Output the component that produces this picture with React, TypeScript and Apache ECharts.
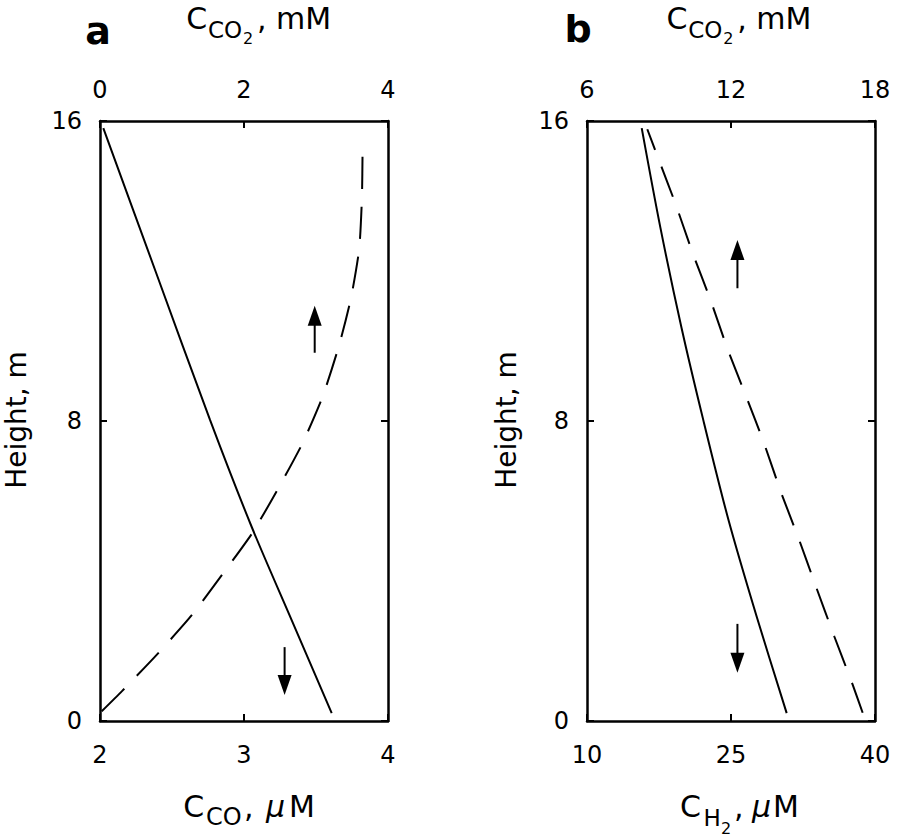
import React, { useEffect, useRef } from 'react';
import * as echarts from 'echarts';

const FONT = '"DejaVu Sans", sans-serif';

// Panel a: solid = C_CO (bottom axis, µM), dashed = C_CO2 (top axis, mM)
const heightA_solid = [0.21, 2.69, 5.18, 8.03, 11.98, 15.81];
const coA = [3.609, 3.331, 3.053, 2.764, 2.387, 2.023];
const heightA_dashed = [0.26, 0.79, 1.77, 2.83, 3.90, 5.01, 6.16, 7.40, 8.64, 10.02, 11.26, 12.59, 13.96, 15.29];
const co2A = [0.024, 0.302, 0.790, 1.278, 1.696, 2.114, 2.463, 2.811, 3.090, 3.321, 3.484, 3.600, 3.638, 3.647];

// Panel b: solid = C_H2 (bottom axis, µM), dashed = C_CO2 (top axis, mM)
const heightB_solid = [0.21, 2.78, 5.36, 8.03, 10.48, 13.15, 15.81];
const h2B = [30.80, 27.68, 24.74, 22.11, 19.85, 17.65, 15.70];
const heightB_dashed = [0.22, 0.97, 2.26, 3.59, 4.83, 6.11, 7.40, 8.68, 9.93, 11.21, 12.50, 13.78, 15.07, 15.78];
const co2B = [17.486, 17.069, 16.301, 15.537, 14.840, 14.077, 13.380, 12.616, 11.852, 11.155, 10.391, 9.694, 8.930, 8.513];

// Arrows (bottom-axis units / height units)
const arrowXA = [3.491, 3.282];
const arrowTailA = [9.82, 1.97];
const arrowHeadA = [10.81, 0.96];
const arrowXB = [25.67, 25.67];
const arrowTailB = [11.54, 2.59];
const arrowHeadB = [12.56, 1.555];

// Axis ticks
const coTicks = { min: 2, max: 4, interval: 1 };
const co2TicksA = { min: 0, max: 4, interval: 2 };
const h2TickValues = [10, 25, 40];
const co2TicksB = { min: 6, max: 18, interval: 6 };
const heightTicks = { min: 0, max: 16, interval: 8 };

const BLACK = '#000';

function axisCommon(showLabel: boolean, margin: number) {
  return {
    type: 'value',
    axisLine: { show: true, onZero: false, lineStyle: { color: BLACK, width: 2.5 } },
    axisTick: { show: true, inside: true, length: 7, lineStyle: { color: BLACK, width: 2 } },
    axisLabel: { show: showLabel, margin, fontFamily: FONT, fontSize: 24, color: BLACK },
    splitLine: { show: false },
  };
}

const pairs = (xs: number[], ys: number[]) => xs.map((x, i) => [x, ys[i]]);

function piece(text: string, x: number, y: number, size: number, opts: { bold?: boolean; italic?: boolean; rotation?: number; align?: string } = {}) {
  const align = opts.align || 'left';
  return {
    type: 'text',
    x,
    y,
    rotation: opts.rotation || 0,
    silent: true,
    style: {
      text,
      font: `${opts.italic ? 'italic ' : ''}${opts.bold ? 'bold ' : ''}${size}px ${FONT}`,
      align,
      textAlign: align,
      verticalAlign: 'middle',
      textVerticalAlign: 'middle',
      fill: BLACK,
    },
  };
}

// "C_CO2, mM" top title, dx = left offset
function topTitle(dx: number) {
  return [
    piece('C', dx + 186.3, 18.3, 30),
    piece('CO', dx + 208, 30, 23),
    piece('2', dx + 243, 38, 16),
    piece(', mM', dx + 257, 18.3, 30),
  ];
}

function arrowSeries(xs: number[], tails: number[], heads: number[], xAxisIndex: number, yAxisIndex: number) {
  const shafts = xs.map((x, i) => ({
    type: 'line',
    xAxisIndex,
    yAxisIndex,
    data: [[x, tails[i]], [x, heads[i]]],
    showSymbol: false,
    symbol: 'none',
    silent: true,
    lineStyle: { color: BLACK, width: 2 },
  }));
  const headsSeries = {
    type: 'scatter',
    xAxisIndex,
    yAxisIndex,
    silent: true,
    data: xs.map((x, i) => ({
      value: [x, heads[i]],
      symbolRotate: heads[i] > tails[i] ? 0 : 180,
    })),
    symbol: 'triangle',
    symbolSize: [14, 20],
    itemStyle: { color: BLACK, opacity: 1 },
  };
  return [...shafts, headsSeries];
}

const option = {
  animation: false,
  backgroundColor: '#fff',
  grid: [
    { left: 100, top: 121, width: 288, height: 600 },
    { left: 587, top: 121, width: 288, height: 600 },
  ],
  xAxis: [
    { ...axisCommon(true, 22), gridIndex: 0, position: 'bottom', ...coTicks },
    { ...axisCommon(true, 19), gridIndex: 0, position: 'top', ...co2TicksA },
    {
      ...axisCommon(true, 22),
      gridIndex: 1,
      position: 'bottom',
      min: 10,
      max: 40,
      axisTick: { show: true, inside: true, length: 7, lineStyle: { color: BLACK, width: 2 }, customValues: h2TickValues },
      axisLabel: { show: true, margin: 22, fontFamily: FONT, fontSize: 24, color: BLACK, customValues: h2TickValues },
    },
    { ...axisCommon(true, 19), gridIndex: 1, position: 'top', ...co2TicksB },
  ],
  yAxis: [
    { ...axisCommon(true, 18), gridIndex: 0, position: 'left', ...heightTicks },
    { ...axisCommon(false, 18), gridIndex: 0, position: 'right', ...heightTicks },
    { ...axisCommon(true, 18), gridIndex: 1, position: 'left', ...heightTicks },
    { ...axisCommon(false, 18), gridIndex: 1, position: 'right', ...heightTicks },
  ],
  series: [
    {
      type: 'line', xAxisIndex: 0, yAxisIndex: 0, data: pairs(coA, heightA_solid),
      showSymbol: false, symbol: 'none', silent: true, smooth: 0.3,
      lineStyle: { color: BLACK, width: 2 },
    },
    {
      type: 'line', xAxisIndex: 1, yAxisIndex: 0, data: pairs(co2A, heightA_dashed),
      showSymbol: false, symbol: 'none', silent: true, smooth: 0.2,
      lineStyle: { color: BLACK, width: 2, type: [32, 18] },
    },
    {
      type: 'line', xAxisIndex: 2, yAxisIndex: 2, data: pairs(h2B, heightB_solid),
      showSymbol: false, symbol: 'none', silent: true, smooth: 0.3,
      lineStyle: { color: BLACK, width: 2 },
    },
    {
      type: 'line', xAxisIndex: 3, yAxisIndex: 2, data: pairs(co2B, heightB_dashed),
      showSymbol: false, symbol: 'none', silent: true, smooth: 0.2,
      lineStyle: { color: BLACK, width: 2, type: [32, 18] },
    },
    ...arrowSeries(arrowXA, arrowTailA, arrowHeadA, 0, 0),
    ...arrowSeries(arrowXB, arrowTailB, arrowHeadB, 2, 2),
  ],
  graphic: [
    piece('a', 98, 31, 38, { bold: true, align: 'center' }),
    piece('b', 578, 29, 38, { bold: true, align: 'center' }),
    ...topTitle(0),
    ...topTitle(480.3),
    // bottom title a: C_CO, μM
    piece('C', 183.3, 806, 30),
    piece('CO', 206, 817, 24),
    piece(',', 244, 806, 30),
    piece('μ', 266, 806, 30, { italic: true }),
    piece('M', 289, 806, 30),
    // bottom title b: C_H2, μM
    piece('C', 680, 806.7, 30),
    piece('H', 703.5, 818, 23),
    piece('2', 721, 828, 16),
    piece(',', 734, 806.7, 30),
    piece('μ', 752, 806.7, 30, { italic: true }),
    piece('M', 773, 806.7, 30),
    // y titles
    piece('Height, m', 16, 420, 28, { rotation: Math.PI / 2, align: 'center' }),
    piece('Height, m', 506, 420, 28, { rotation: Math.PI / 2, align: 'center' }),
  ],
};

export default function App() {
  const ref = useRef<HTMLDivElement>(null);
  useEffect(() => {
    const chart = echarts.init(ref.current!, null, { renderer: 'svg' });
    chart.setOption(option as any);
    return () => chart.dispose();
  }, []);
  return (
    <div
      ref={ref}
      style={{ position: 'absolute', left: 0, top: 0, width: 898, height: 837, background: '#fff' }}
    />
  );
}
